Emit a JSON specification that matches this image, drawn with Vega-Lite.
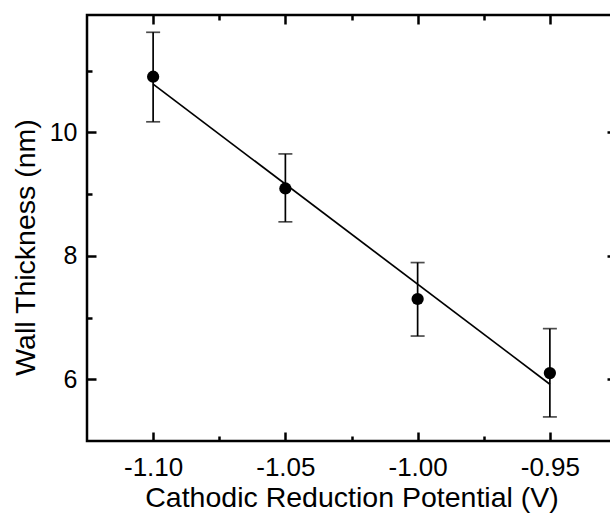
{
  "$schema": "https://vega.github.io/schema/vega-lite/v6.json",
  "width": 529,
  "height": 426,
  "autosize": {"type": "none"},
  "padding": {"left": 87, "top": 15, "right": -6, "bottom": 72},
  "background": "white",
  "config": {
    "view": {"stroke": "black", "strokeWidth": 2.5},
    "font": "Liberation Sans",
    "axis": {
      "grid": false,
      "domain": false,
      "tickColor": "black",
      "labelColor": "black",
      "titleColor": "black",
      "labelFontSize": 25,
      "titleFontSize": 28.5,
      "titleFontWeight": "normal",
      "tickWidth": 2.5
    }
  },
  "datasets": {
    "pts": [
      {"V": -1.10, "t": 10.9, "lo": 10.17, "hi": 11.62},
      {"V": -1.05, "t": 9.09, "lo": 8.55, "hi": 9.65},
      {"V": -1.00, "t": 7.30, "lo": 6.70, "hi": 7.89},
      {"V": -0.95, "t": 6.10, "lo": 5.39, "hi": 6.82}
    ],
    "fit": [
      {"V": -1.10, "t": 10.78},
      {"V": -0.95, "t": 5.92}
    ]
  },
  "resolve": {"axis": {"x": "independent", "y": "independent"}},
  "layer": [
    {
      "data": {"name": "pts"},
      "mark": {"type": "rule", "color": "black", "strokeWidth": 1.7},
      "encoding": {
        "x": {"field": "V", "type": "quantitative",
          "scale": {"domain": [-1.125, -0.925], "nice": false, "zero": false},
          "axis": {"orient": "bottom", "values": [-1.10, -1.05, -1.00, -0.95], "format": ".2f",
            "labelExpr": "replace(datum.label, '\u2212', '-')", "labelFontSize": 26,
            "tickSize": -9, "labelPadding": 22, "title": "Cathodic Reduction Potential (V)", "titlePadding": 3}},
        "y": {"field": "lo", "type": "quantitative",
          "scale": {"domain": [5, 11.9], "nice": false, "zero": false},
          "axis": {"orient": "left", "values": [6, 8, 10], "tickSize": -9, "labelPadding": 19,
            "title": "Wall Thickness (nm)", "titlePadding": 9, "titleY": 232}},
        "y2": {"field": "hi"}
      }
    },
    {
      "data": {"name": "pts"},
      "mark": {"type": "tick", "color": "black", "orient": "horizontal", "size": 14, "thickness": 1.7},
      "encoding": {
        "x": {"field": "V", "type": "quantitative",
          "scale": {"domain": [-1.125, -0.925], "nice": false, "zero": false},
          "axis": {"orient": "top", "values": [-1.10, -1.05, -1.00, -0.95], "tickSize": -9, "labels": false, "title": null}},
        "y": {"field": "hi", "type": "quantitative",
          "scale": {"domain": [5, 11.9], "nice": false, "zero": false},
          "axis": {"orient": "right", "values": [6, 8, 10], "tickSize": -9, "labels": false, "title": null}}
      }
    },
    {
      "data": {"name": "pts"},
      "mark": {"type": "tick", "color": "black", "orient": "horizontal", "size": 14, "thickness": 1.7},
      "encoding": {
        "x": {"field": "V", "type": "quantitative",
          "scale": {"domain": [-1.125, -0.925], "nice": false, "zero": false},
          "axis": {"orient": "bottom", "values": [-1.075, -1.025, -0.975], "tickSize": -5, "labels": false, "title": null}},
        "y": {"field": "lo", "type": "quantitative",
          "scale": {"domain": [5, 11.9], "nice": false, "zero": false},
          "axis": {"orient": "left", "values": [7, 9, 11], "tickSize": -5, "labels": false, "title": null}}
      }
    },
    {
      "data": {"name": "fit"},
      "mark": {"type": "line", "color": "black", "strokeWidth": 1.7},
      "encoding": {
        "x": {"field": "V", "type": "quantitative",
          "scale": {"domain": [-1.125, -0.925], "nice": false, "zero": false}, "axis": null},
        "y": {"field": "t", "type": "quantitative",
          "scale": {"domain": [5, 11.9], "nice": false, "zero": false}, "axis": null}
      }
    },
    {
      "data": {"name": "pts"},
      "mark": {"type": "circle", "color": "black", "opacity": 1, "size": 150},
      "encoding": {
        "x": {"field": "V", "type": "quantitative",
          "scale": {"domain": [-1.125, -0.925], "nice": false, "zero": false},
          "axis": {"orient": "top", "values": [-1.075, -1.025, -0.975], "tickSize": -5, "labels": false, "title": null}},
        "y": {"field": "t", "type": "quantitative",
          "scale": {"domain": [5, 11.9], "nice": false, "zero": false},
          "axis": {"orient": "right", "values": [7, 9, 11], "tickSize": -5, "labels": false, "title": null}}
      }
    }
  ]
}
